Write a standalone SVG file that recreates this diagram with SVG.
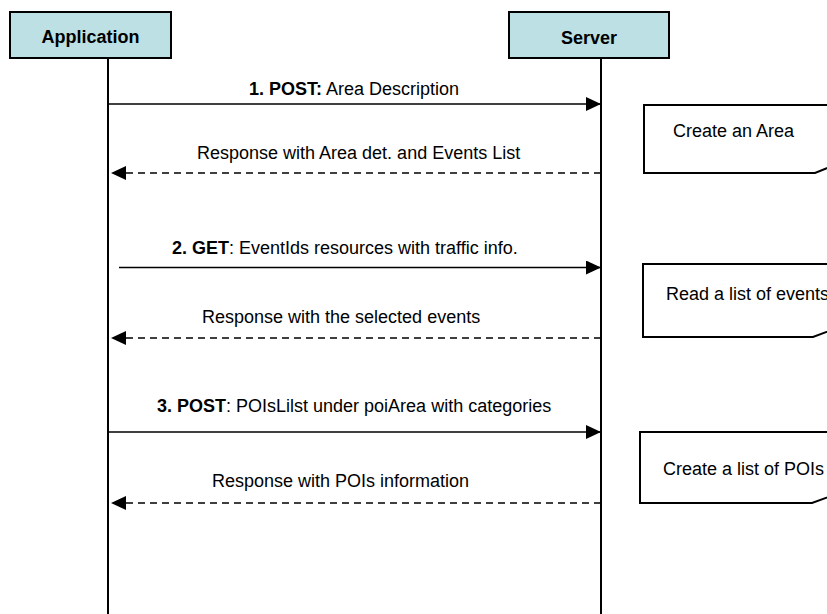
<svg xmlns="http://www.w3.org/2000/svg" width="827" height="614" viewBox="0 0 827 614">
<style>
text{font-family:"Liberation Sans",Arial,sans-serif;font-size:18px;fill:#000}
.b{font-weight:bold}
.hdr{fill:#bce0e3;stroke:#000;stroke-width:2}
.life{stroke:#000;stroke-width:2;fill:none}
.msg{stroke:#000;stroke-width:1.6;fill:none}
.ret{stroke:#000;stroke-width:1.6;fill:none;stroke-dasharray:7 5}
.note{fill:#fff;stroke:#000;stroke-width:2}
</style>
<defs>
<marker id="ah" markerUnits="userSpaceOnUse" markerWidth="16" markerHeight="14" refX="15" refY="7" orient="auto">
<path d="M0,0 L15,7 L0,14 z" fill="#000" stroke="none"/>
</marker>
</defs>
<g id="application">
<line class="life" x1="108" y1="58" x2="108" y2="614"/>
<rect class="hdr" x="10" y="12" width="161" height="46"/>
<text class="b" x="90.5" y="43" text-anchor="middle">Application</text>
</g>
<g id="server">
<line class="life" x1="601" y1="58" x2="601" y2="614"/>
<rect class="hdr" x="509" y="12" width="160" height="46"/>
<text class="b" x="589" y="44" text-anchor="middle">Server</text>
</g>
<g id="note-create-area">
<path class="note" d="M644,105 L845,105 L845,161 L815,173 L644,173 Z"/>
<text x="673" y="137">Create an Area</text>
</g>
<g id="note-read-events">
<path class="note" d="M643,264 L845,264 L845,325 L813,337 L643,337 Z"/>
<text x="666" y="300">Read a list of events</text>
</g>
<g id="note-create-pois">
<path class="note" d="M640,432 L845,432 L845,491 L812,503 L640,503 Z"/>
<text x="663" y="475">Create a list of POIs</text>
</g>
<g id="connectors">
<line class="msg" x1="108" y1="104" x2="601" y2="104" marker-end="url(#ah)"/>
<text x="249" y="95"><tspan class="b">1. POST:</tspan> Area Description</text>
<line class="ret" x1="601" y1="173" x2="111" y2="173" marker-end="url(#ah)"/>
<text x="197" y="159">Response with Area det. and Events List</text>
<line class="msg" x1="119" y1="267.5" x2="601" y2="267.5" marker-end="url(#ah)"/>
<text x="172" y="254"><tspan class="b">2. GET</tspan>: EventIds resources with traffic info.</text>
<line class="ret" x1="601" y1="338" x2="111" y2="338" marker-end="url(#ah)"/>
<text x="202" y="323">Response with the selected events</text>
<line class="msg" x1="108" y1="432" x2="601" y2="432" marker-end="url(#ah)"/>
<text x="157" y="412"><tspan class="b">3. POST</tspan>: POIsLilst under poiArea with categories</text>
<line class="ret" x1="601" y1="503" x2="111" y2="503" marker-end="url(#ah)"/>
<text x="212" y="487">Response with POIs information</text>
</g>
</svg>
